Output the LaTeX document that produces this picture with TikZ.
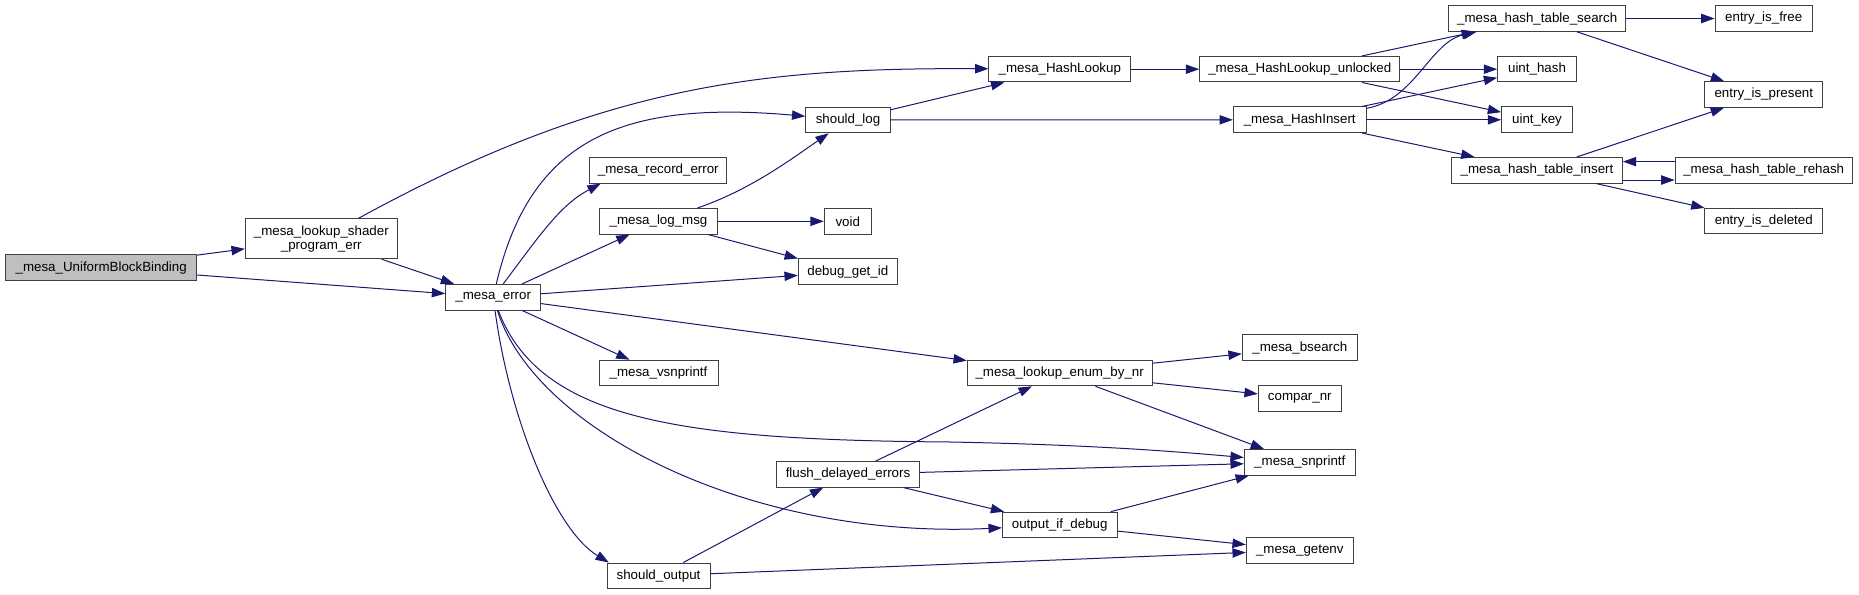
\documentclass[tikz,border=0pt]{standalone}
\usepackage{fontspec}
\usepackage{xcolor}
\usepackage{tikz}
\usetikzlibrary{arrows.meta}
\newfontfamily\dxfont{Liberation Sans}
\definecolor{edgeblue}{RGB}{25,25,112}
\definecolor{boxgrey}{RGB}{64,64,64}
\definecolor{rootgrey}{RGB}{191,191,191}

\begin{document}
\begin{tikzpicture}[
      x=0.75pt, y=-0.75pt,
      fn/.style={rectangle, draw=boxgrey, line width=0.75pt, fill=white, text centered,
          minimum height=19.2pt, minimum width=#1*0.75pt, inner sep=1pt,
          font=\dxfont\fontsize{10pt}{10.5pt}\selectfont},
      rootfn/.style={fn=#1, fill=rootgrey},
      call/.style={-{Triangle[length=10pt,width=7pt]}, edgeblue, line width=0.75pt}
    ]
    \useasboundingbox (0,0) rectangle (1859,595);

    \node[rootfn=191] (uniformblockbinding) at (101.2,267.8) {\_mesa\_UniformBlockBinding};
    \node[fn=152, minimum height=30pt, align=center] (lookupshader) at (321.3,238.7)
        {\_mesa\_lookup\_shader\\\_program\_err};
    \node[fn=95] (mesaerror) at (493.2,297.2) {\_mesa\_error};

    \node[fn=137.3] (recorderror) at (658.3,170.3) {\_mesa\_record\_error};
    \node[fn=117.7] (logmsg) at (658.5,221.3) {\_mesa\_log\_msg};
    \node[fn=119] (vsnprintf) at (658.5,373) {\_mesa\_vsnprintf};
    \node[fn=103] (shouldoutput) at (658.5,575.8) {should\_output};

    \node[fn=84.3] (shouldlog) at (848,120) {should\_log};
    \node[fn=47] (void) at (847.8,221.3) {void};
    \node[fn=99] (debuggetid) at (847.8,271.8) {debug\_get\_id};
    \node[fn=142.7] (flushdelayed) at (848,474.3) {flush\_delayed\_errors};

    \node[fn=141.7] (hashlookup) at (1059.8,69.2) {\_mesa\_HashLookup};
    \node[fn=184.7] (enumbynr) at (1059.7,373) {\_mesa\_lookup\_enum\_by\_nr};
    \node[fn=114.7] (outputifdebug) at (1059.7,525) {output\_if\_debug};

    \node[fn=200.3] (hashlookupunlocked) at (1299.8,69.2) {\_mesa\_HashLookup\_unlocked};
    \node[fn=132.7] (hashinsert) at (1299.7,119.8) {\_mesa\_HashInsert};
    \node[fn=115] (bsearch) at (1299.8,347.7) {\_mesa\_bsearch};
    \node[fn=83] (comparnr) at (1299.8,398.3) {compar\_nr};
    \node[fn=111] (snprintf) at (1299.8,462.3) {\_mesa\_snprintf};
    \node[fn=107] (getenv) at (1299.8,550.3) {\_mesa\_getenv};

    \node[fn=177] (tablesearch) at (1537.2,18.5) {\_mesa\_hash\_table\_search};
    \node[fn=78.7] (uinthash) at (1537,69.2) {uint\_hash};
    \node[fn=70.7] (uintkey) at (1537,119.8) {uint\_key};
    \node[fn=170.7] (tableinsert) at (1537,170.3) {\_mesa\_hash\_table\_insert};

    \node[fn=97.3] (entryfree) at (1763.7,18.5) {entry\_is\_free};
    \node[fn=118.3] (entrypresent) at (1763.8,94.5) {entry\_is\_present};
    \node[fn=177.3] (tablerehash) at (1763.7,170.3) {\_mesa\_hash\_table\_rehash};
    \node[fn=118.3] (entrydeleted) at (1763.8,221.2) {entry\_is\_deleted};

    \draw[call] (uniformblockbinding) -- (lookupshader);
    \draw[call] (uniformblockbinding) -- (mesaerror);
    \draw[call] (lookupshader) .. controls (600,86) and (760,67.5) .. (hashlookup);
    \draw[call] (lookupshader) -- (mesaerror);

    \draw[call] (mesaerror) .. controls (530,140) and (620,100) .. (shouldlog);
    \draw[call] (mesaerror) .. controls (540,235) and (560,205) .. (recorderror.193);
    \draw[call] (mesaerror) -- (logmsg);
    \draw[call] (mesaerror) -- (debuggetid);
    \draw[call] (mesaerror) -- (vsnprintf);
    \draw[call] (mesaerror) -- (enumbynr);
    \draw[call] (mesaerror) .. controls (540,420) and (680,440) .. (950,442)
        .. controls (1100,445) and (1180,452) .. (snprintf);
    \draw[call] (mesaerror) .. controls (535,430) and (750,540) .. (outputifdebug);
    \draw[call] (mesaerror) .. controls (510,420) and (555,530) .. (shouldoutput.165);

    \draw[call] (logmsg) .. controls (750,190) and (790,160) .. (shouldlog);
    \draw[call] (logmsg) -- (void);
    \draw[call] (logmsg) -- (debuggetid);

    \draw[call] (shouldlog) -- (hashlookup);
    \draw[call] (shouldlog) -- (hashinsert);
    \draw[call] (hashlookup) -- (hashlookupunlocked);

    \draw[call] (hashlookupunlocked) -- (tablesearch);
    \draw[call] (hashlookupunlocked) -- (uinthash);
    \draw[call] (hashlookupunlocked) -- (uintkey);
    \draw[call] (hashinsert) .. controls (1415,100) and (1430,42) .. (tablesearch);
    \draw[call] (hashinsert) -- (uinthash);
    \draw[call] (hashinsert) -- (uintkey);
    \draw[call] (hashinsert) -- (tableinsert);

    \draw[call] (tablesearch) -- (entryfree);
    \draw[call] (tablesearch) -- (entrypresent);
    \draw[call] (tableinsert) -- (entrypresent);
    \draw[call] ([yshift=6.5pt]tablerehash.west) -- ([yshift=6.5pt]tableinsert.east);
    \draw[call] ([yshift=-7.3pt]tableinsert.east) -- ([yshift=-7.3pt]tablerehash.west);
    \draw[call] (tableinsert) -- (entrydeleted);

    \draw[call] (enumbynr) -- (bsearch);
    \draw[call] (enumbynr) -- (comparnr);
    \draw[call] (enumbynr) -- (snprintf);
    \draw[call] (flushdelayed) -- (enumbynr);
    \draw[call] (flushdelayed) -- (snprintf);
    \draw[call] (flushdelayed) -- (outputifdebug);
    \draw[call] (outputifdebug) -- (snprintf);
    \draw[call] (outputifdebug) -- (getenv);
    \draw[call] (shouldoutput) -- (flushdelayed);
    \draw[call] (shouldoutput) -- (getenv);
  \end{tikzpicture}
\end{document}
